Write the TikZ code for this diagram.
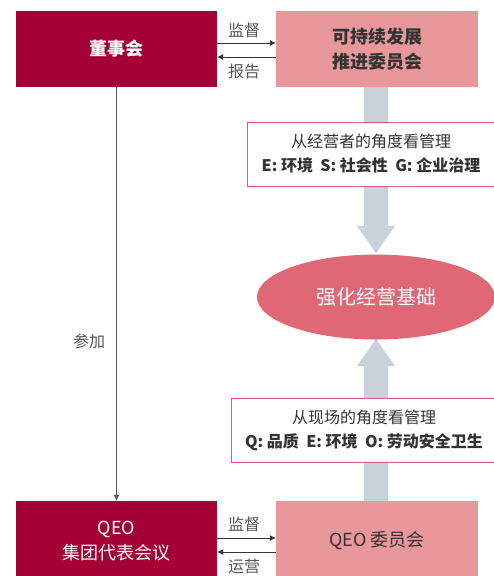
\documentclass[tikz,border=0pt]{standalone}
\usepackage{fontspec}
\setmainfont{Noto Sans CJK SC}
\usetikzlibrary{arrows.meta,shapes.geometric}
\definecolor{crimson}{HTML}{A50036}
\definecolor{pinkbox}{HTML}{E8979A}
\definecolor{ellred}{HTML}{DF6776}
\definecolor{bargrey}{HTML}{C9D2D9}
\definecolor{frame}{HTML}{D65A7E}
\definecolor{txt}{HTML}{333333}
\definecolor{linegrey}{HTML}{555555}
\tikzset{
  darkbox/.style={rectangle, fill=crimson, text=white, minimum width=201pt, minimum height=76pt, inner sep=0pt, align=center, font=\fontsize{18}{25}\selectfont},
  lightbox/.style={rectangle, fill=pinkbox, text=txt, minimum width=202pt, minimum height=76pt, inner sep=0pt, align=center, font=\fontsize{18}{25}\selectfont},
  infobox/.style={rectangle, draw=frame, line width=0.9pt, fill=white, text=txt, inner sep=0pt, align=center, font=\fontsize{16}{24}\selectfont},
  conn/.style={draw=txt, line width=0.8pt, -{Latex[length=6pt,width=6pt]}},
  lbl/.style={text=linegrey, font=\fontsize{16}{18}\selectfont, inner sep=0pt},
  bar/.style={fill=bargrey, draw=none}
}
\begin{document}
\begin{tikzpicture}[x=1pt,y=-1pt]
\useasboundingbox (0,0) rectangle (493,576);
% boxes
\node[darkbox] (board) at (116.5,49) {\bfseries 董事会};
\node[lightbox] (sdc) at (377,49) {\bfseries 可持续发展\\\bfseries 推进委员会};
\node[darkbox, minimum height=80pt] (qeog) at (116.5,541) {QEO\\集团代表会议};
\node[lightbox, minimum height=80pt] (qeoc) at (377,541) {QEO 委员会};
% grey arrows
\fill[bar] (364,87) -- (388,87) -- (388,226) -- (395,226) -- (376,253) -- (357,226) -- (364,226) -- cycle;
\fill[bar] (364,501) -- (388,501) -- (388,366) -- (395,366) -- (376,339) -- (357,366) -- (364,366) -- cycle;
% ellipse
\node[ellipse, fill=ellred, text=white, minimum width=238pt, minimum height=85pt, inner sep=0pt, font=\fontsize{20}{24}\selectfont] (core) at (376,297) {强化经营基础};
% info boxes
\node[infobox, minimum width=248pt, minimum height=64pt] (mgmt) at (371,154) {从经营者的角度看管理\\\bfseries E: 环境\ \ S: 社会性\ \ G: 企业治理};
\node[infobox, minimum width=266pt, minimum height=64pt] (site) at (364,430) {从现场的角度看管理\\\bfseries Q: 品质\ \ E: 环境\ \ O: 劳动安全卫生};
% horizontal connectors
\draw[conn] ([yshift=6pt]board.east) -- ([yshift=6pt]sdc.west);
\draw[conn] ([yshift=-8pt]sdc.west) -- ([yshift=-8pt]board.east);
\node[lbl] (l1) at (244,30) {监督};
\node[lbl] (l2) at (244,71) {报告};
\draw[conn] ([yshift=3pt]qeog.east) -- ([yshift=3pt]qeoc.west);
\draw[conn] ([yshift=-11pt]qeoc.west) -- ([yshift=-11pt]qeog.east);
\node[lbl] (l3) at (244,524) {监督};
\node[lbl] (l4) at (244,566) {运营};
% vertical connector
\draw[draw=linegrey, line width=0.8pt, -{Latex[length=6pt,width=6pt]}] (board.south) -- (qeog.north);
\node[lbl] (l5) at (89,341) {参加};
\end{tikzpicture}
\end{document}
